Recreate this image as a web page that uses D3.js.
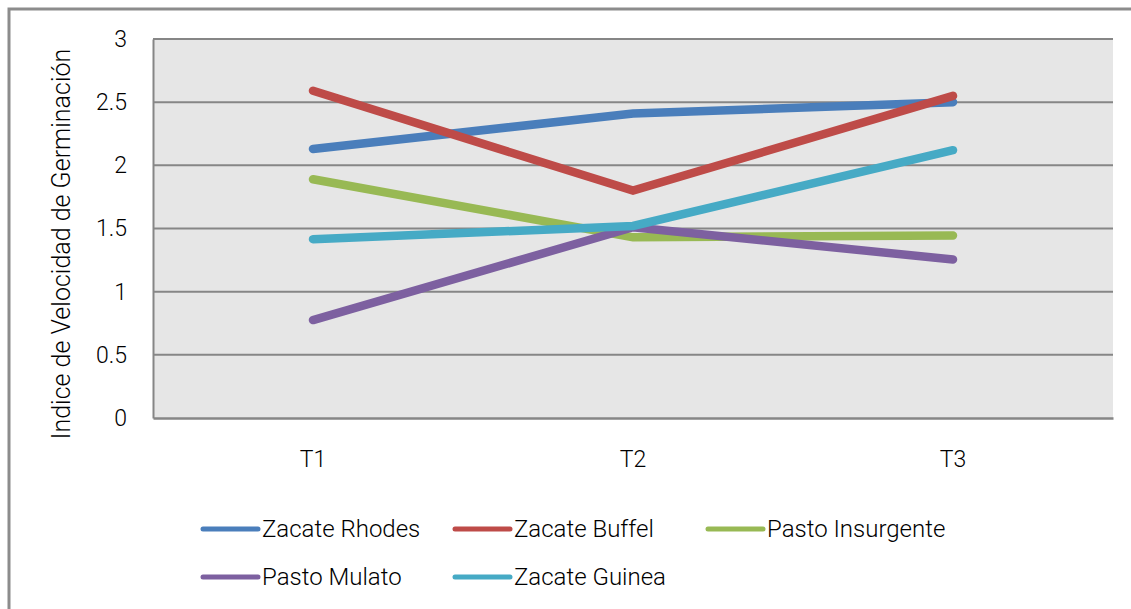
<!DOCTYPE html>
<html><head><meta charset="utf-8">
<script src="https://cdn.jsdelivr.net/npm/d3@7"></script>
<style>html,body{margin:0;padding:0;background:#fff;}svg{display:block;}</style>
</head><body>
<svg id="chart" width="1131" height="609"></svg>
<script>
const categories = ["T1", "T2", "T3"];
const seriesNames = ["Zacate Rhodes", "Zacate Buffel", "Pasto Insurgente", "Pasto Mulato", "Zacate Guinea"];
const rhodes = [2.13, 2.41, 2.50];
const buffel = [2.59, 1.80, 2.55];
const insurgente = [1.89, 1.43, 1.445];
const mulato = [0.775, 1.51, 1.255];
const guinea = [1.415, 1.52, 2.12];
const yTicks = [0, 0.5, 1, 1.5, 2, 2.5, 3];
const yTickLabels = ["0", "0.5", "1", "1.5", "2", "2.5", "3"];
const colors = ["#4a7ebb", "#be4b48", "#98b954", "#7d60a0", "#46aac5"];
const yTitle = "Indice de Velocidad de Germinación";

const seriesValues = [rhodes, buffel, insurgente, mulato, guinea];
const font = "Roboto, 'Liberation Sans', sans-serif";

const svg = d3.select("#chart");
const plot = {left: 153, top: 39, right: 1113, bottom: 418};

// outer frame
svg.append("path").attr("d", "M9,609 L9,9 L1131,9")
  .attr("fill", "none").attr("stroke", "#8c8c8c").attr("stroke-width", 3);

const x = d3.scaleBand().domain(categories).range([plot.left, plot.right]);
const y = d3.scaleLinear().domain([0, 3]).range([plot.bottom, plot.top]);

svg.append("rect").attr("x", plot.left).attr("y", plot.top)
  .attr("width", plot.right - plot.left).attr("height", plot.bottom - plot.top)
  .attr("fill", "#e6e6e6");

// gridlines
svg.append("g").selectAll("line").data(yTicks.filter(d => d > 0)).join("line")
  .attr("x1", plot.left).attr("x2", plot.right)
  .attr("y1", d => y(d)).attr("y2", d => y(d))
  .attr("stroke", "#868686").attr("stroke-width", 2);

// axes
const yAxis = d3.axisLeft(y).tickValues(yTicks).tickFormat((d, i) => yTickLabels[i]).tickSize(0).tickPadding(26);
const gy = svg.append("g").attr("transform", `translate(${plot.left},0)`).call(yAxis);
gy.select(".domain").attr("stroke", "#868686").attr("stroke-width", 2);
gy.selectAll("text").attr("font-family", font).attr("font-weight", 300).attr("font-size", 23).attr("fill", "#000");

const xAxis = d3.axisBottom(x).tickSize(0).tickPadding(33);
const gx = svg.append("g").attr("transform", `translate(0,${plot.bottom})`).call(xAxis);
gx.select(".domain").attr("stroke", "#868686").attr("stroke-width", 2.5);
gx.selectAll("text").attr("font-family", font).attr("font-weight", 300).attr("font-size", 23).attr("fill", "#000");

// y title
svg.append("text").attr("transform", "translate(70,244) rotate(-90)")
  .attr("text-anchor", "middle").attr("font-family", font).attr("font-weight", 300).attr("font-size", 25)
  .attr("fill", "#000").text(yTitle);

// lines
const line = d3.line().x((d, i) => x(categories[i]) + x.bandwidth() / 2).y(d => y(d));
svg.append("g").selectAll("path").data(seriesValues).join("path")
  .attr("d", d => line(d)).attr("fill", "none")
  .attr("stroke", (d, i) => colors[i]).attr("stroke-width", 8.5)
  .attr("stroke-linecap", "round").attr("stroke-linejoin", "miter");

// legend
const legendPos = [[203, 529], [455, 529], [708, 529], [203, 577], [455, 577]];
const lg = svg.append("g").selectAll("g").data(seriesNames).join("g")
  .attr("transform", (d, i) => `translate(${legendPos[i][0]},${legendPos[i][1]})`);
lg.append("line").attr("x1", 0).attr("x2", 55).attr("y1", 0).attr("y2", 0)
  .attr("stroke", (d, i) => colors[i]).attr("stroke-width", 5).attr("stroke-linecap", "round");
lg.append("text").attr("x", 59).attr("y", 0).attr("dy", "0.35em")
  .attr("font-family", font).attr("font-weight", 300).attr("font-size", 24).attr("fill", "#000").text(d => d);
</script>
</body></html>
